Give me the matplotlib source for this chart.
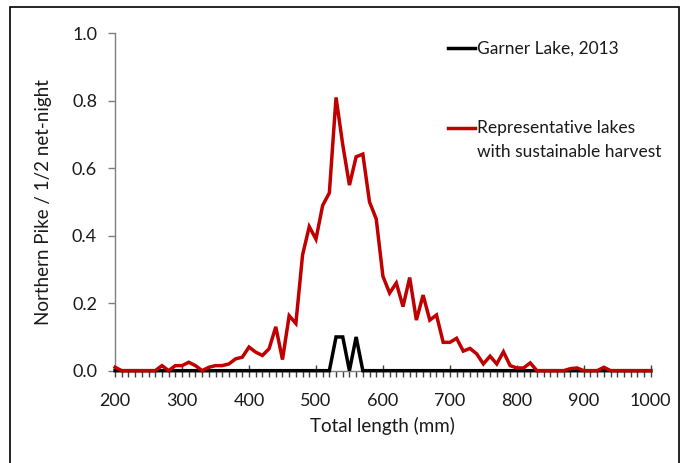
import numpy as np
import matplotlib
matplotlib.use("Agg")
import matplotlib.pyplot as plt
from matplotlib.ticker import MultipleLocator
from matplotlib.patches import Rectangle

plt.rcParams['font.family'] = ['Lato', 'DejaVu Sans']

# length bins (mm)
length = list(range(200, 1010, 10))

# Garner Lake, 2013
garner = [0, 0, 0, 0, 0, 0, 0, 0, 0, 0,
          0, 0, 0, 0, 0, 0, 0, 0, 0, 0,
          0, 0, 0, 0, 0, 0, 0, 0, 0, 0,
          0, 0, 0, 0.1, 0.1, 0, 0.1, 0, 0, 0,
          0, 0, 0, 0, 0, 0, 0, 0, 0, 0,
          0, 0, 0, 0, 0, 0, 0, 0, 0, 0,
          0, 0, 0, 0, 0, 0, 0, 0, 0, 0,
          0, 0, 0, 0, 0, 0, 0, 0, 0, 0, 0]

# representative lakes with sustainable harvest
representative = [0.01, 0, 0, 0, 0, 0, 0, 0.015, 0, 0.015,
                  0.015, 0.025, 0.015, 0, 0.01, 0.015, 0.015, 0.02, 0.035, 0.04,
                  0.07, 0.055, 0.045, 0.065, 0.13, 0.033, 0.163, 0.14, 0.343, 0.427,
                  0.39, 0.49, 0.527, 0.81, 0.67, 0.55, 0.634, 0.642, 0.5, 0.45,
                  0.28, 0.23, 0.26, 0.19, 0.276, 0.15, 0.224, 0.15, 0.165, 0.084,
                  0.084, 0.096, 0.058, 0.066, 0.05, 0.02, 0.043, 0.02, 0.056, 0.015,
                  0.008, 0.008, 0.023, 0, 0, 0, 0, 0, 0.006, 0.008,
                  0, 0, 0, 0.01, 0, 0, 0, 0, 0, 0, 0]

red = '#C00000'
axis_col = '#7f7f7f'
txt = '#1a1a1a'

fig = plt.figure(figsize=(6.85, 4.63), dpi=100)
ax = fig.add_axes([0.168, 0.1994, 0.782, 0.7286])

ax.plot(length, garner, color='black', lw=2.5, solid_joinstyle='miter', clip_on=False, zorder=3)
ax.plot(length, representative, color=red, lw=2.5, solid_joinstyle='miter', clip_on=False, zorder=4)

ax.set_xlim(200, 1000)
ax.set_ylim(0, 1.0)
ax.xaxis.set_major_locator(MultipleLocator(100))
ax.xaxis.set_minor_locator(MultipleLocator(10))
ax.yaxis.set_major_locator(MultipleLocator(0.2))
ax.yaxis.set_major_formatter(plt.FuncFormatter(lambda v, p: '%.1f' % v))

for s in ['top', 'right']:
    ax.spines[s].set_visible(False)
for s in ['left', 'bottom']:
    ax.spines[s].set_color(axis_col)
    ax.spines[s].set_linewidth(1.0)

ax.tick_params(axis='x', which='major', direction='inout', length=8, width=1,
               color='#404040', labelsize=13, pad=12, labelcolor=txt)
ax.tick_params(axis='x', which='minor', direction='out', length=4, width=1, color='#404040')
ax.tick_params(axis='y', which='major', direction='out', length=5, width=1,
               color=axis_col, labelsize=13, pad=8, labelcolor=txt)

ax.set_xlabel('Total length (mm)', fontsize=13.5, color=txt, labelpad=6)
ax.set_ylabel('Northern Pike / 1/2 net-night', fontsize=13.5, color=txt, labelpad=14)

# legend drawn like the original (no frame, handle beside first text line)
ax.plot([0.621, 0.672], [0.956, 0.956], color='black', lw=2.5, transform=ax.transAxes, clip_on=False)
ax.text(0.675, 0.956, 'Garner Lake, 2013', transform=ax.transAxes, fontsize=12.5,
        va='center', ha='left', color=txt)
ax.plot([0.621, 0.672], [0.719, 0.719], color=red, lw=2.5, transform=ax.transAxes, clip_on=False)
ax.text(0.675, 0.719, 'Representative lakes', transform=ax.transAxes, fontsize=12.5,
        va='center', ha='left', color=txt)
ax.text(0.675, 0.648, 'with sustainable harvest', transform=ax.transAxes, fontsize=12.5,
        va='center', ha='left', color=txt)

# outer frame
fig.patches.append(Rectangle((10 / 685, -0.01), 669 / 685, 1 - 7 / 463 + 0.01,
                             transform=fig.transFigure, fill=False, edgecolor='black', lw=1.2))

fig.savefig('out.png', dpi=100)
